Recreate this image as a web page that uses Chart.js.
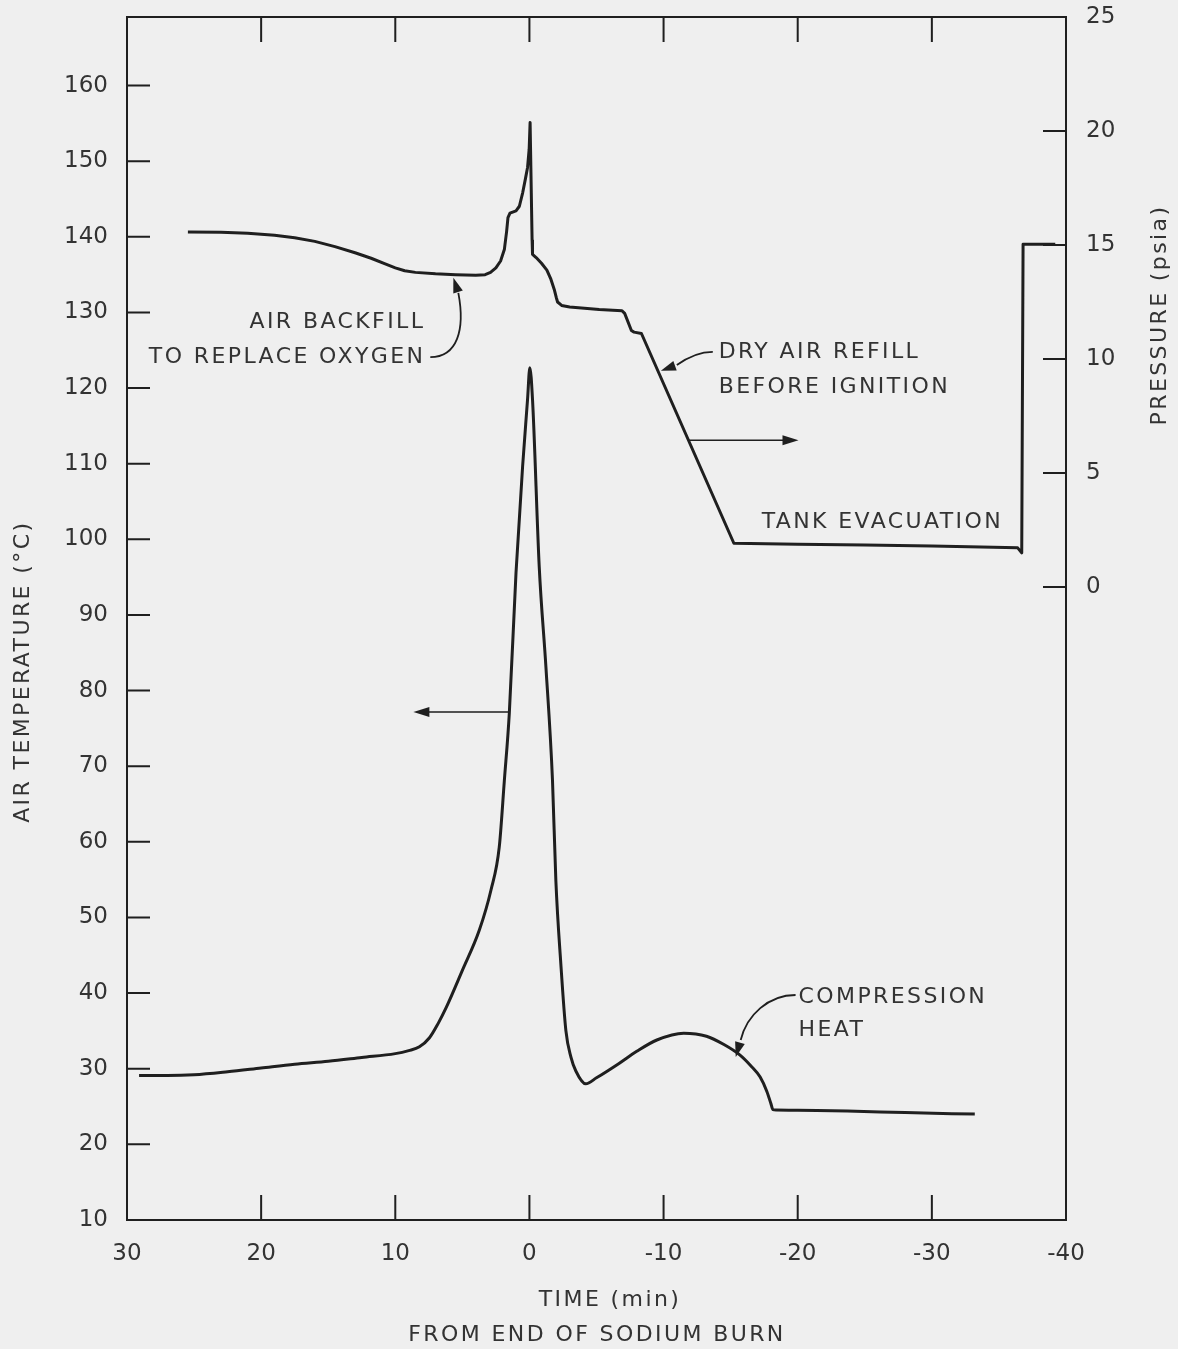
<!DOCTYPE html>
<html>

<head>
    <title>Air temperature and pressure during sodium burn</title>
    <style>
        html, body { margin: 0; padding: 0; background: #efefef; }
        #wrap { width: 1178px; height: 1349px; position: relative; }
    </style>
</head>

<body>
    <div id="wrap">
        <canvas id="burnChart"></canvas>
    </div>

    <script src="https://cdn.jsdelivr.net/npm/chart.js"></script>
    <script type="text/javascript">
        // time axis runs from +30 min (before) down to -40 min
        const timeTicks = [30, 20, 10, 0, -10, -20, -30, -40];
        const tempTicks = [10, 20, 30, 40, 50, 60, 70, 80, 90, 100, 110, 120, 130, 140, 150, 160];
        const pressTicks = [0, 5, 10, 15, 20, 25];

        // air temperature (deg C)
        const tempTime = [29.1, 27, 25, 22.5, 20, 17.5, 15, 12.5, 10, 9, 8.2, 7.45, 6.8, 6.2, 5.0, 3.74, 2.87, 2.25,
            1.87, 1.5, 1.0, 0.51, 0.14, -0.03, -0.23, -0.73, -1.23, -1.72, -1.97, -2.34, -2.72, -3.1, -3.46, -4.2,
            -5.0, -6.68, -8, -9.5, -11.5, -13.2, -14.5, -15.7, -16.5, -17.2, -17.7, -18.0, -18.15, -18.4, -20, -23.7, -28, -33.2];
        const tempValues = [29.1, 29.1, 29.2, 29.6, 30.1, 30.6, 31.0, 31.5, 32.0, 32.4, 32.9, 34.1, 36.0, 38.1, 43.0, 48.3, 53.6, 59.3,
            68.1, 77.0, 95.6, 109.6, 118.5, 122.7, 118.5, 96.4, 83.1, 68.1, 54.9, 43.9, 35.0, 31.5, 29.7, 28.0,
            28.8, 30.7, 32.3, 33.8, 34.7, 34.3, 33.2, 31.8, 30.4, 28.9, 27.0, 25.4, 24.6, 24.55, 24.5, 24.4, 24.2, 24.0];

        // tank pressure (psia)
        const pressTime = [25.46, 23, 21, 19, 17.5, 16, 14.5, 13, 11.8, 10.8, 10, 9.3, 8.5, 7, 5.5, 4, 3.3, 2.9, 2.5, 2.15,
            1.87, 1.7, 1.6, 1.45, 1.0, 0.75, 0.5, 0.3, 0.14, 0.02, -0.05, -0.2, -0.23, -0.5, -0.9, -1.3, -1.6, -1.85,
            -2.0, -2.1, -2.4, -3.0, -5.2, -6.9, -7.1, -7.6, -7.8, -8.35, -15.24, -20, -25, -30, -36.4, -36.7, -36.8, -39.2];
        const pressValues = [15.57, 15.56, 15.52, 15.43, 15.32, 15.16, 14.93, 14.66, 14.42, 14.18, 14.0, 13.87, 13.8, 13.74, 13.7, 13.67, 13.7, 13.8, 14.0, 14.3,
            14.8, 15.6, 16.2, 16.4, 16.5, 16.7, 17.3, 17.9, 18.4, 19.2, 20.37, 15.2, 14.59, 14.45, 14.2, 13.9, 13.5, 13.05,
            12.7, 12.5, 12.35, 12.28, 12.17, 12.12, 12.0, 11.25, 11.18, 11.12, 1.92, 1.88, 1.84, 1.8, 1.72, 1.5, 15.03, 15.03];

        const ink = '#1f1f1f';
        const textInk = '#333333';
        const labelFont = '22px "DejaVu Sans"';

        function arrowHead(ctx, fromX, fromY, toX, toY, len, half) {
            const ang = Math.atan2(toY - fromY, toX - fromX);
            ctx.beginPath();
            ctx.moveTo(toX, toY);
            ctx.lineTo(toX - len * Math.cos(ang) + half * Math.sin(ang), toY - len * Math.sin(ang) - half * Math.cos(ang));
            ctx.lineTo(toX - len * Math.cos(ang) - half * Math.sin(ang), toY - len * Math.sin(ang) + half * Math.cos(ang));
            ctx.closePath();
            ctx.fill();
        }

        // frame, inward ticks, axis titles and callouts
        const decorations = {
            id: 'decorations',
            afterDatasetsDraw(chart) {
                const { ctx, chartArea: a, scales } = chart;
                const X = t => scales.x.getPixelForValue(t);
                const Y = v => scales.y.getPixelForValue(v);
                ctx.save();
                ctx.strokeStyle = ink;
                ctx.fillStyle = ink;
                ctx.lineWidth = 2;
                ctx.strokeRect(a.left, a.top, a.right - a.left, a.bottom - a.top);

                ctx.beginPath();
                scales.y.ticks.forEach(t => {
                    const p = scales.y.getPixelForValue(t.value);
                    if (p < a.bottom - 2) { ctx.moveTo(a.left, p); ctx.lineTo(a.left + 23, p); }
                });
                scales.y1.ticks.forEach(t => {
                    const p = scales.y1.getPixelForValue(t.value);
                    if (p > a.top + 2) { ctx.moveTo(a.right, p); ctx.lineTo(a.right - 23, p); }
                });
                scales.x.ticks.forEach(t => {
                    const p = scales.x.getPixelForValue(t.value);
                    if (p > a.left + 2 && p < a.right - 2) {
                        ctx.moveTo(p, a.bottom); ctx.lineTo(p, a.bottom - 25);
                        ctx.moveTo(p, a.top); ctx.lineTo(p, a.top + 25);
                    }
                });
                ctx.stroke();

                // callout leaders
                ctx.lineWidth = 1.8;
                ctx.beginPath();
                ctx.moveTo(X(7.39), Y(124.1));
                ctx.bezierCurveTo(X(5.38), Y(124.1), X(4.78), Y(127.7), X(5.30), Y(132.6));
                ctx.stroke();
                arrowHead(ctx, X(5.30), Y(132.6), X(5.67), Y(134.6), 15, 5);

                ctx.beginPath();
                ctx.moveTo(X(-13.67), Y(124.8));
                ctx.bezierCurveTo(X(-12.62), Y(124.8), X(-11.73), Y(124.0), X(-10.99), Y(123.05));
                ctx.stroke();
                arrowHead(ctx, X(-10.99), Y(123.05), X(-9.80), Y(122.3), 15, 5);

                ctx.beginPath();
                ctx.moveTo(X(-19.84), Y(39.75));
                ctx.bezierCurveTo(X(-17.83), Y(39.75), X(-16.2), Y(37.1), X(-15.75), Y(33.8));
                ctx.stroke();
                arrowHead(ctx, X(-15.75), Y(33.8), X(-15.38), Y(31.55), 15, 5);

                // which axis each curve belongs to
                ctx.lineWidth = 1.5;
                ctx.beginPath();
                ctx.moveTo(X(-11.88), Y(113.1));
                ctx.lineTo(X(-19.2), Y(113.1));
                ctx.moveTo(X(1.51), Y(77.17));
                ctx.lineTo(X(7.8), Y(77.17));
                ctx.stroke();
                arrowHead(ctx, X(-11.88), Y(113.1), X(-20.06), Y(113.1), 16, 5);
                arrowHead(ctx, X(1.51), Y(77.17), X(8.65), Y(77.17), 16, 5);

                // callout text
                ctx.fillStyle = textInk;
                ctx.font = labelFont;
                ctx.letterSpacing = '2.4px';
                ctx.textBaseline = 'middle';
                ctx.textAlign = 'right';
                ctx.fillText('AIR BACKFILL', X(7.76), Y(128.7));
                ctx.fillText('TO REPLACE OXYGEN', X(7.76), Y(124.1));
                ctx.textAlign = 'left';
                ctx.fillText('DRY AIR REFILL', X(-14.11), Y(124.8));
                ctx.fillText('BEFORE IGNITION', X(-14.11), Y(120.1));
                ctx.fillText('TANK EVACUATION', X(-17.31), Y(102.2));
                ctx.fillText('COMPRESSION', X(-20.06), Y(39.5));
                ctx.fillText('HEAT', X(-20.06), Y(35.1));

                // axis titles
                ctx.textAlign = 'center';
                ctx.fillText('TIME (min)', 610, 1300);
                ctx.fillText('FROM END OF SODIUM BURN', 597, 1335);

                ctx.save();
                ctx.translate(23, Y(82.5));
                ctx.rotate(-Math.PI / 2);
                ctx.fillText('AIR TEMPERATURE (°C)', 0, 0);
                ctx.restore();

                ctx.save();
                ctx.translate(1160, scales.y1.getPixelForValue(11.93));
                ctx.rotate(-Math.PI / 2);
                ctx.fillText('PRESSURE (psia)', 0, 0);
                ctx.restore();

                ctx.restore();
            }
        };

        const tickFont = { family: 'DejaVu Sans', size: 23 };

        // keep the plot box fixed: no extra room for overhanging tick labels
        function noMargins(s) {
            s.paddingTop = 0;
            s.paddingBottom = 0;
            s.paddingLeft = 0;
            s.paddingRight = 0;
        }

        const burnContext = document.getElementById('burnChart');
        window.burnChart = new Chart(burnContext, {
            type: 'line',
            data: {
                datasets: [{
                    label: 'Air temperature',
                    yAxisID: 'y',
                    data: tempTime.map((t, i) => ({ x: t, y: tempValues[i] })),
                    borderColor: ink,
                    borderWidth: 3,
                    pointRadius: 0,
                    cubicInterpolationMode: 'monotone',
                    fill: false
                }, {
                    label: 'Pressure',
                    yAxisID: 'y1',
                    data: pressTime.map((t, i) => ({ x: t, y: pressValues[i] })),
                    borderColor: ink,
                    borderWidth: 3,
                    borderJoinStyle: 'round',
                    pointRadius: 0,
                    tension: 0,
                    fill: false
                }]
            },
            options: {
                responsive: true,
                maintainAspectRatio: false,
                animation: false,
                layout: { padding: { top: 17, left: 0, right: 0, bottom: 0 } },
                plugins: {
                    legend: { display: false },
                    tooltip: { enabled: false }
                },
                scales: {
                    x: {
                        type: 'linear',
                        reverse: true,
                        min: -40,
                        max: 30,
                        grid: { display: false, drawTicks: false },
                        border: { display: false },
                        afterBuildTicks: s => { s.ticks = timeTicks.map(v => ({ value: v })); },
                        afterFit: s => { s.height = 129; noMargins(s); },
                        ticks: { font: tickFont, color: textInk, padding: 20, maxRotation: 0, autoSkip: false }
                    },
                    y: {
                        type: 'linear',
                        position: 'left',
                        min: 10,
                        max: 169.07,
                        grid: { display: false, drawTicks: false },
                        border: { display: false },
                        afterBuildTicks: s => { s.ticks = tempTicks.map(v => ({ value: v })); },
                        afterFit: s => { s.width = 127; noMargins(s); },
                        ticks: { font: tickFont, color: textInk, padding: 19, autoSkip: false }
                    },
                    y1: {
                        type: 'linear',
                        position: 'right',
                        min: -27.76,
                        max: 25,
                        grid: { display: false, drawTicks: false },
                        border: { display: false },
                        afterBuildTicks: s => { s.ticks = pressTicks.map(v => ({ value: v })); },
                        afterFit: s => { s.width = 112; noMargins(s); },
                        ticks: { font: tickFont, color: textInk, padding: 20, autoSkip: false }
                    }
                }
            },
            plugins: [decorations]
        });
    </script>
</body>

</html>
